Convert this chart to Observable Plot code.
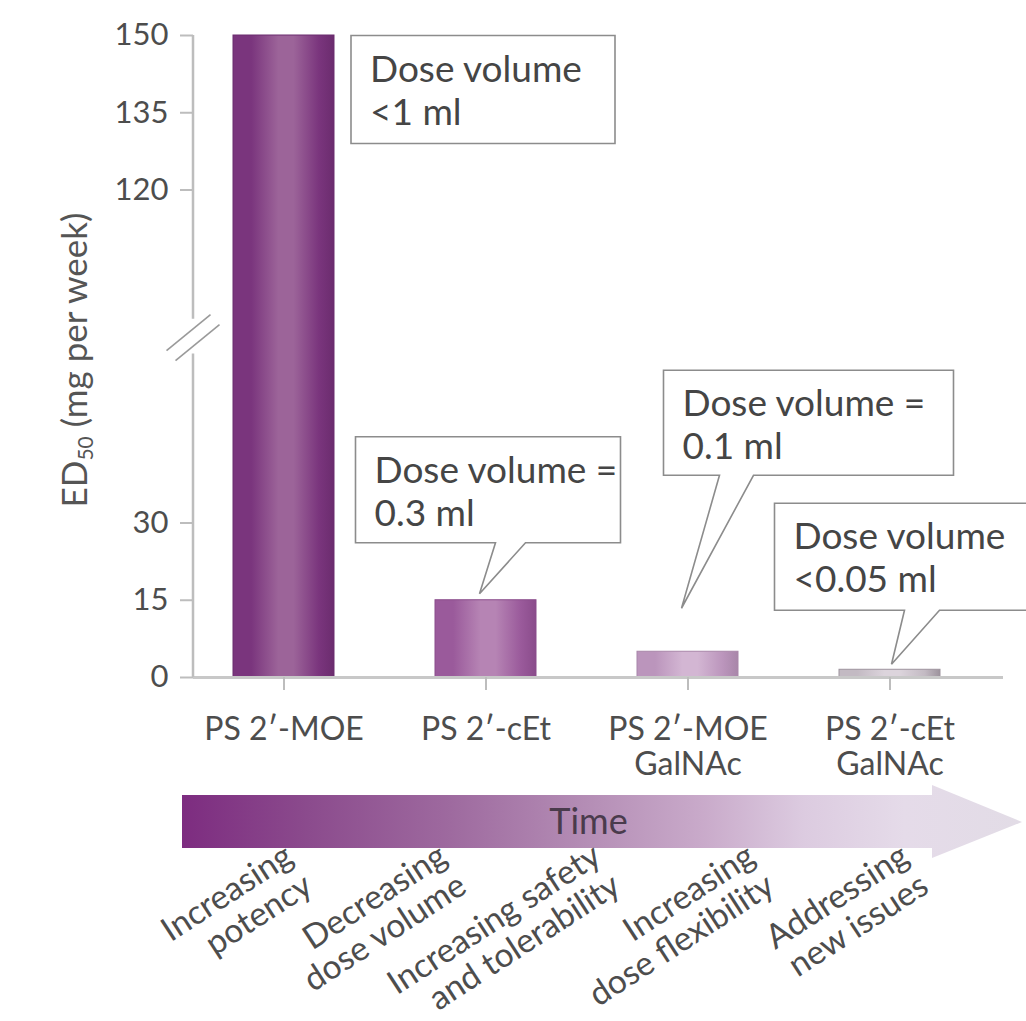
<!DOCTYPE html>
<html>
<head>
<meta charset="utf-8">
<script src="https://cdn.jsdelivr.net/npm/d3@7"></script>
<script src="https://cdn.jsdelivr.net/npm/@observablehq/plot@0.6"></script>
<style>
  html, body { margin: 0; padding: 0; background: #fff; }
  #page { width: 1026px; height: 1021px; overflow: hidden; font-family: Lato, sans-serif; }
  #page svg { display: block; }
</style>
</head>
<body>
<div id="page"></div>
<script>
// ---------------- data ----------------
const categories = ["PS 2′-MOE", "PS 2′-cEt", "PS 2′-MOE\nGalNAc", "PS 2′-cEt\nGalNAc"];
const ed50 = [150, 15, 5, 1.5];
const yTicks = [0, 15, 30, 120, 135, 150];
const axisBreak = [62.8, 94.9];
const calloutLines = [
  ["Dose volume", "<1 ml"],
  ["Dose volume =", "0.3 ml"],
  ["Dose volume =", "0.1 ml"],
  ["Dose volume", "<0.05 ml"]
];
const stages = [
  "Increasing\npotency",
  "Decreasing\ndose volume",
  "Increasing safety\nand tolerability",
  "Increasing\ndose flexibility",
  "Addressing\nnew issues"
];
const yLabelParts = ["ED", "50", " (mg per week)"];
const arrowLabel = "Time";

// ---------------- styles / layout ----------------
const breakGap = 6.76; // visual gap (in value units) left where the axis is broken
// map a value onto the broken (compressed) axis
const brk = v => v <= axisBreak[0] ? v : axisBreak[0] + breakGap + Math.max(0, v - axisBreak[1]);

const barStyles = [
  {edge: "#7a357d", mid: "#9c6499", stroke: "#6b2c6e"},
  {edge: "#9a5a9b", mid: "#b684b4", stroke: "#8a4c8b"},
  {edge: "#bb95bc", mid: "#d3b6d3", stroke: "#a886a9"},
  {edge: "#c3bac3", mid: "#dcd4dc", stroke: "#9d939d"}
];
const calloutLayout = [
  {box: [17, 281, 0.5, 108.5]},
  {tip: [-6, -6], box: [-124, 141, -157, -51], gap: [16, 46]},
  {tip: [-6, -43], box: [-18, 272, -238, -133], gap: [38, 72]},
  {tip: [2, -5], box: [-117, 140, -161, -54], gap: [13, 48]}
];
const textColor = "#4a4a4a";
const axisGray = "#bdbdbd";

const bars = categories.map((c, i) => ({cat: c, value: ed50[i], i}));
const tickPos = yTicks.map(brk);
const tickLabel = new Map(tickPos.map((p, i) => [p, String(yTicks[i])]));

function bandwidthOf(s) {
  return typeof s.bandwidth === "function" ? s.bandwidth() : (s.bandwidth || 0);
}
function applyScale(s, v) {
  return typeof s === "function" ? s(v) : s.apply(v);
}

function gradientDefs() {
  const defs = d3.create("svg:defs");
  barStyles.forEach((s, i) => {
    const lg = defs.append("linearGradient").attr("id", `bar${i}`)
      .attr("x1", 0).attr("x2", 1).attr("y1", 0).attr("y2", 0);
    [[0, s.edge], [0.18, s.edge], [0.45, s.mid], [0.6, s.mid], [0.85, s.edge], [1, s.stroke]]
      .forEach(([o, c]) => lg.append("stop").attr("offset", o).attr("stop-color", c));
  });
  return defs.node();
}

function axisDecor(index, scales, values, dims) {
  const y = scales.y;
  const x0 = dims.marginLeft;
  const g = d3.create("svg:g");
  const segs = [[0, axisBreak[0]], [axisBreak[1], d3.max(yTicks)]];
  segs.forEach(([a, b]) => {
    g.append("line").attr("x1", x0).attr("x2", x0)
      .attr("y1", applyScale(y, brk(a))).attr("y2", applyScale(y, brk(b)))
      .attr("stroke", axisGray).attr("stroke-width", 2.5);
  });
  const cy = (applyScale(y, brk(axisBreak[0])) + applyScale(y, brk(axisBreak[1]))) / 2;
  [[-4.5, -3.5], [4.5, 6.5]].forEach(([ox, oy]) => {
    g.append("line")
      .attr("x1", x0 + ox - 22).attr("y1", cy + oy + 18)
      .attr("x2", x0 + ox + 22).attr("y2", cy + oy - 18)
      .attr("stroke", "#9a9a9a").attr("stroke-width", 1.6);
  });
  const midY = (applyScale(y, 0) + applyScale(y, brk(d3.max(yTicks)))) / 2 + 4;
  const t = g.append("text")
    .attr("transform", `translate(${x0 - 106},${midY}) rotate(-90)`)
    .attr("text-anchor", "middle").attr("font-size", 35).attr("fill", "#555");
  t.append("tspan").text(yLabelParts[0]);
  t.append("tspan").attr("font-size", 21).attr("dy", 6).text(yLabelParts[1]);
  t.append("tspan").attr("dy", -6).text(yLabelParts[2]);
  return g.node();
}

function callouts(index, scales, values, dims) {
  const x = scales.x, y = scales.y;
  const bw = bandwidthOf(x);
  const g = d3.create("svg:g");
  calloutLines.forEach((lines, i) => {
    const L = calloutLayout[i];
    const xs = applyScale(x, categories[i]);
    const ys = applyScale(y, brk(ed50[i]));
    let px, py;
    if (L.tip) { px = xs + bw / 2 + L.tip[0]; py = ys + L.tip[1]; }
    else { px = xs + bw; py = ys; }
    const l = px + L.box[0], r = px + L.box[1], t = py + L.box[2], b = py + L.box[3];
    const d = L.gap
      ? `M${l},${t}H${r}V${b}H${px + L.gap[1]}L${px},${py}L${px + L.gap[0]},${b}H${l}Z`
      : `M${l},${t}H${r}V${b}H${l}Z`;
    g.append("path").attr("d", d).attr("fill", "#fff")
      .attr("stroke", "#8c8c8c").attr("stroke-width", 1.6);
    const tx = g.append("text").attr("font-size", 37).attr("fill", "#454545")
      .attr("text-anchor", "start");
    lines.forEach((ln, j) => tx.append("tspan").attr("x", l + 19).attr("y", t + 46 + j * 43).text(ln));
  });
  return g.node();
}

const chart = Plot.plot({
  width: 1026,
  height: 785,
  marginLeft: 193,
  marginRight: 23,
  marginTop: 35,
  marginBottom: 108,
  style: {fontFamily: "Lato, sans-serif", background: "#fff", color: textColor},
  x: {domain: categories, paddingInner: 0.5, paddingOuter: 0.25, align: 0.385},
  y: {domain: [0, brk(150)]},
  color: {type: "identity"},
  marks: [
    gradientDefs,
    Plot.barY(bars, {
      x: "cat", y: d => brk(d.value),
      fill: d => `url(#bar${d.i})`,
      stroke: d => barStyles[d.i].stroke,
      strokeWidth: 1
    }),
    Plot.ruleY([0], {stroke: "#c8c8c8", strokeWidth: 3}),
    Plot.axisY({ticks: tickPos, tickFormat: t => tickLabel.get(t), tickSize: 13, tickPadding: 12, fontSize: 31,
      stroke: axisGray, strokeWidth: 2, fill: "#4d4d4d", label: null}),
    Plot.axisX({tickSize: 13, tickPadding: 24, fontSize: 32, lineHeight: 1.1,
      stroke: axisGray, strokeWidth: 2, fill: "#4d4d4d", label: null}),
    axisDecor,
    callouts
  ]
});

// ---------------- time arrow ----------------
function timeArrow(index, scales, values, dims) {
  const l = dims.marginLeft, tip = dims.width - dims.marginRight;
  const g = d3.create("svg:g");
  const lg = g.append("defs").append("linearGradient").attr("id", "arrowGrad")
    .attr("gradientUnits", "userSpaceOnUse").attr("x1", l).attr("x2", tip).attr("y1", 0).attr("y2", 0);
  [[0, "#7d2c80"], [0.14, "#8a498c"], [0.32, "#9e6a9f"], [0.48, "#b48db5"],
   [0.62, "#c9aaca"], [0.74, "#dccbe0"], [0.86, "#e5dbe9"], [1, "#e2dce6"]]
    .forEach(([o, c]) => lg.append("stop").attr("offset", o).attr("stop-color", c));
  const headLen = 90, bodyTop = 10, bodyBot = 63, headTop = 0, headBot = 73, mid = 37;
  const hb = tip - headLen;
  g.append("path")
    .attr("d", `M${l},${bodyTop}H${hb}V${headTop}L${tip},${mid}L${hb},${headBot}V${bodyBot}H${l}Z`)
    .attr("fill", "url(#arrowGrad)");
  return g.node();
}

const timeline = Plot.plot({
  width: 1026,
  height: 236,
  marginLeft: 182,
  marginRight: 4,
  marginTop: 0,
  marginBottom: 0,
  style: {fontFamily: "Lato, sans-serif", background: "#fff"},
  x: {type: "point", domain: stages, range: [280, 897], padding: 0, axis: null},
  marks: [
    timeArrow,
    Plot.text([arrowLabel], {frameAnchor: "top", lineAnchor: "middle", dx: -14, dy: 36.5, fontSize: 36, fill: "#4a3b4c"}),
    Plot.text(stages, {x: d => d, frameAnchor: "top", dy: 55, textAnchor: "end", lineAnchor: "top",
      rotate: -33, fontSize: 33.5, lineHeight: 1.06, fill: "#4d4d4d"})
  ]
});

const page = document.getElementById("page");
page.appendChild(chart);
page.appendChild(timeline);
</script>
</body>
</html>
